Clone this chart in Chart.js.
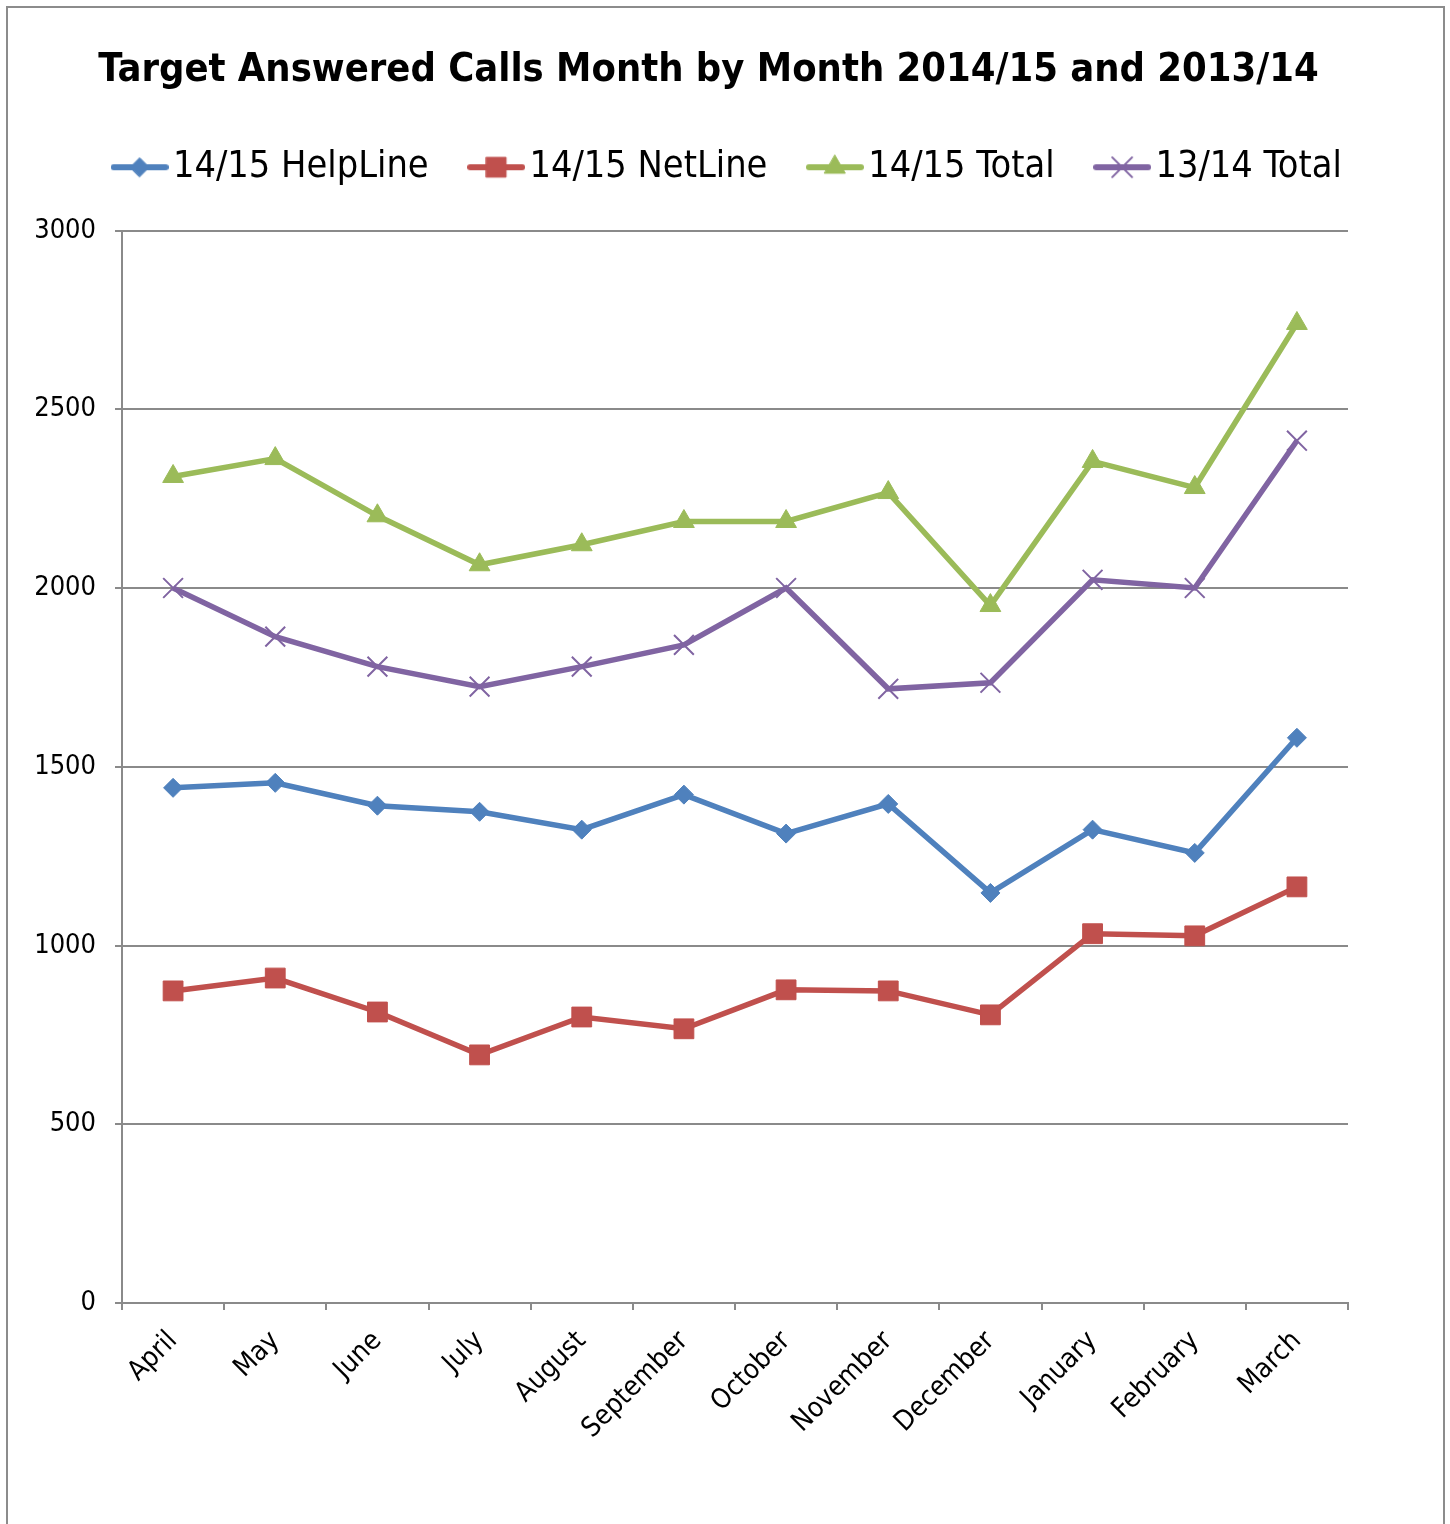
<!DOCTYPE html>
<html>
<head>
  <title>Target Answered Calls</title>
  <script src="https://cdn.jsdelivr.net/npm/chart.js"></script>
  <style>
    body {
      margin: 0;
      background: #fff;
      overflow: hidden;
    }
    #wrap {
      position: relative;
      width: 1450px;
      height: 1524px;
    }
    #frame {
      position: absolute;
      left: 6px;
      top: 6px;
      width: 1435px;
      height: 1600px;
      border: 2px solid #8c8c8c;
      pointer-events: none;
    }
  </style>
</head>
<body>
<div id="wrap">
  <canvas id="callsChart" width="1450" height="1524"></canvas>
  <div id="frame"></div>
</div>

<script>
  // values
  const months = ["April", "May", "June", "July", "August", "September",
    "October", "November", "December", "January", "February", "March"];
  const helpLine1415 = [1441, 1455, 1391, 1374, 1324, 1422, 1313, 1396, 1147, 1324, 1259, 1581];
  const netLine1415 = [873, 909, 814, 694, 800, 767, 876, 873, 806, 1033, 1027, 1164];
  const total1415 = [2312, 2362, 2202, 2065, 2121, 2186, 2186, 2267, 1951, 2354, 2281, 2740];
  const total1314 = [2000, 1864, 1780, 1724, 1780, 1841, 2000, 1718, 1735, 2023, 2000, 2412];

  const gridGray = "#8a8a8a";
  const fontCond = "'DejaVu Sans Condensed', 'DejaVu Sans', sans-serif";

  function series(label, data, color, style, radius, borderW) {
    return {
      label: label,
      data: data,
      borderColor: color,
      backgroundColor: color,
      borderWidth: 5.5,
      tension: 0,
      pointStyle: style,
      pointRadius: radius,
      pointHoverRadius: radius,
      pointBackgroundColor: color,
      pointBorderColor: color,
      pointBorderWidth: borderW
    };
  }

  const datasets = [
    series("14/15 HelpLine", helpLine1415, "#4F81BD", "rectRot", 9.5, 1),
    series("14/15 NetLine", netLine1415, "#C0504D", "rect", 14, 1),
    series("14/15 Total", total1415, "#9BBB59", "triangle", 12, 1),
    series("13/14 Total", total1314, "#8064A2", "crossRot", 14, 2)
  ];

  // little line + marker picture for each legend entry
  function legendIcon(ds) {
    const c = document.createElement("canvas");
    c.width = 58;
    c.height = 30;
    const g = c.getContext("2d");
    g.strokeStyle = ds.borderColor;
    g.lineWidth = 6;
    g.lineCap = "round";
    g.beginPath();
    g.moveTo(3, 15);
    g.lineTo(55, 15);
    g.stroke();
    g.fillStyle = ds.pointBackgroundColor;
    g.strokeStyle = ds.pointBorderColor;
    g.lineWidth = ds.pointBorderWidth;
    Chart.helpers.drawPoint(g, {
      pointStyle: ds.pointStyle,
      radius: ds.pointRadius,
      rotation: 0,
      borderWidth: ds.pointBorderWidth
    }, 29, 15);
    return c;
  }

  // extra room under the legend, and the title/legend nudged sideways like the original
  const layoutTweaks = {
    id: "layoutTweaks",
    afterInit(chart) {
      const lg = chart.legend;
      const fit = lg.fit;
      lg.fit = function () {
        fit.call(this);
        this.height += 34.5;
      };
      const shiftDraw = (box, dx) => {
        const draw = box.draw;
        box.draw = function () {
          this.left += dx;
          this.right += dx;
          draw.apply(this, arguments);
          this.left -= dx;
          this.right -= dx;
        };
      };
      shiftDraw(chart.titleBlock, -16.5);
      shiftDraw(lg, 8.5);
    }
  };

  const ctx = document.getElementById("callsChart").getContext("2d");
  new Chart(ctx, {
    type: "line",
    data: {
      labels: months,
      datasets: datasets
    },
    plugins: [layoutTweaks],
    options: {
      responsive: false,
      animation: false,
      layout: {
        padding: 0
      },
      plugins: {
        title: {
          display: true,
          text: "Target Answered Calls Month by Month 2014/15 and 2013/14",
          color: "#000",
          font: { family: fontCond, size: 39.5, weight: "bold", lineHeight: 1.2 },
          padding: { top: 47, bottom: 1 }
        },
        legend: {
          display: true,
          labels: {
            color: "#000",
            font: { family: fontCond, size: 37.6 },
            usePointStyle: true,
            pointStyleWidth: 29,
            padding: 53,
            generateLabels(chart) {
              return chart.data.datasets.map((ds, i) => ({
                text: ds.label,
                datasetIndex: i,
                pointStyle: legendIcon(ds),
                fillStyle: ds.borderColor,
                strokeStyle: ds.borderColor,
                lineWidth: 0,
                fontColor: "#000",
                hidden: false
              }));
            }
          }
        },
        tooltip: { enabled: false }
      },
      scales: {
        x: {
          offset: true,
          afterFit(scale) { scale.height = 221; },
          grid: {
            offset: true,
            drawOnChartArea: false,
            drawTicks: true,
            tickLength: 7,
            color: gridGray,
            lineWidth: 2
          },
          border: { display: true, color: gridGray, width: 2 },
          ticks: {
            color: "#000",
            font: { family: fontCond, size: 27.5 },
            minRotation: 45,
            maxRotation: 45,
            autoSkip: false,
            padding: 15
          }
        },
        y: {
          min: 0,
          max: 3000,
          afterFit(scale) { scale.width = 122; },
          grid: {
            color: gridGray,
            lineWidth: 2,
            tickLength: 7
          },
          border: { display: true, color: gridGray, width: 2 },
          ticks: {
            stepSize: 500,
            color: "#000",
            font: { family: fontCond, size: 27 },
            padding: 19,
            callback: (v) => String(v)
          }
        },
        // empty right-hand spacer so the plot stops short of the frame
        spacer: {
          type: "linear",
          position: "right",
          display: true,
          afterFit(scale) { scale.width = 102; },
          grid: { display: false, drawTicks: false },
          border: { display: false },
          ticks: { display: false }
        }
      }
    }
  });
</script>
</body>
</html>
